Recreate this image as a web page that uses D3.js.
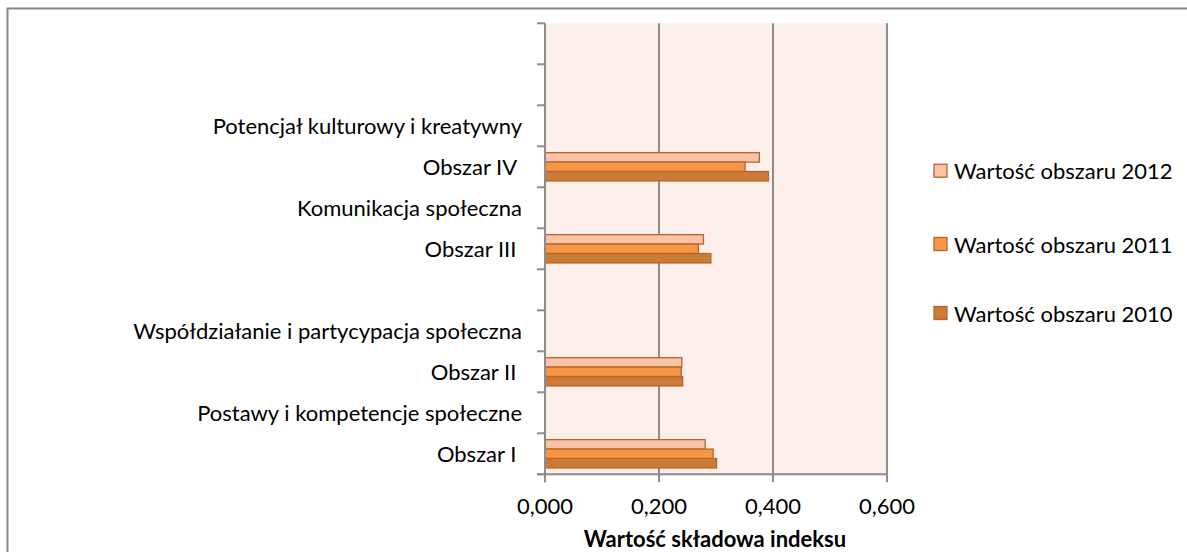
<!DOCTYPE html>
<html><head><meta charset="utf-8">
<script src="https://cdn.jsdelivr.net/npm/d3@7"></script>
<style>
body{margin:0;background:#fff;}
svg text{font-family:Lato,"Open Sans",sans-serif;fill:#000;white-space:pre;}
</style></head>
<body><svg id="c" width="1187" height="552"></svg>
<script>
// categories bottom → top
const categories = ["Obszar I ", "Postawy i kompetencje społeczne", "Obszar II ",
  "Współdziałanie i partycypacja społeczna", "", "Obszar III ",
  "Komunikacja społeczna", "Obszar IV ", "Potencjał kulturowy i kreatywny", "", ""];
const seriesNames = ["Wartość obszaru 2012", "Wartość obszaru 2011", "Wartość obszaru 2010"];
const values2012 = [0.281, null, 0.240, null, null, 0.278, null, 0.376, null, null, null];
const values2011 = [0.295, null, 0.239, null, null, 0.269, null, 0.351, null, null, null];
const values2010 = [0.301, null, 0.2415, null, null, 0.291, null, 0.392, null, null, null];
const xTicks = [0, 0.2, 0.4, 0.6];
const axisTitle = "Wartość składowa indeksu";
const colors = ["#FAC3A7", "#F79646", "#CB7A38"];
const seriesValues = [values2012, values2011, values2010];

const svg = d3.select("#c");
const L = 545, R = 887, T = 23.3, B = 474.3;
const FS = 22;

// chart border (cropped)
svg.append("path").attr("d", `M7.5,552 V8.5 H1187`).attr("fill","none")
  .attr("stroke","#868686").attr("stroke-width",2);

const x = d3.scaleLinear().domain([0, 0.6]).range([L, R]);
const idx = d3.range(categories.length);
const y = d3.scaleBand().domain(idx.slice().reverse()).range([T, B]).padding(0);
const yInner = d3.scaleBand().domain(d3.range(3)).range([0, y.bandwidth()])
  .paddingInner(0).paddingOuter(0.675);

// plot background
svg.append("rect").attr("x", L).attr("y", T).attr("width", R - L).attr("height", B - T)
  .attr("fill", "#FCEEE9");

// gridlines
svg.append("g").selectAll("line").data(xTicks.slice(1)).join("line")
  .attr("x1", d => x(d)).attr("x2", d => x(d)).attr("y1", T).attr("y2", B)
  .attr("stroke", "#8C8C8C").attr("stroke-width", 2);

// bars
const gBars = svg.append("g");
seriesValues.forEach((vals, s) => {
  gBars.selectAll(null).data(idx.filter(i => vals[i] != null)).join("rect")
    .attr("x", x(0))
    .attr("y", i => y(i) + yInner(s))
    .attr("width", i => x(vals[i]) - x(0))
    .attr("height", yInner.bandwidth())
    .attr("fill", colors[s])
    .attr("stroke", "#B8652A").attr("stroke-width", 1.3);
});

// y axis
const yAxis = svg.append("g");
yAxis.append("line").attr("x1", L).attr("x2", L).attr("y1", T).attr("y2", B + 8)
  .attr("stroke", "#8C8C8C").attr("stroke-width", 2);
const yTickPos = idx.map(i => y(i)).concat([B]);
yAxis.selectAll("line.t").data(yTickPos).join("line").attr("class","t")
  .attr("x1", L - 8).attr("x2", L).attr("y1", d => d).attr("y2", d => d)
  .attr("stroke", "#8C8C8C").attr("stroke-width", 2);
yAxis.selectAll("text").data(idx).join("text")
  .attr("x", L - 23).attr("y", i => y(i) + y.bandwidth() / 2)
  .attr("text-anchor", "end").attr("dominant-baseline", "central")
  .attr("font-size", FS).text(i => categories[i]);

// x axis
const xAxis = svg.append("g");
xAxis.append("line").attr("x1", L - 8).attr("x2", R).attr("y1", B).attr("y2", B)
  .attr("stroke", "#8C8C8C").attr("stroke-width", 2);
xAxis.selectAll("line.t").data(xTicks).join("line").attr("class","t")
  .attr("x1", d => x(d)).attr("x2", d => x(d)).attr("y1", B).attr("y2", B + 8)
  .attr("stroke", "#8C8C8C").attr("stroke-width", 2);
xAxis.selectAll("text").data(xTicks).join("text")
  .attr("x", d => x(d)).attr("y", 505).attr("text-anchor", "middle")
  .attr("dominant-baseline", "central").attr("font-size", FS)
  .text(d => d3.format(".3f")(d).replace(".", ","));
svg.append("text").attr("x", 715).attr("y", 538).attr("text-anchor", "middle")
  .attr("dominant-baseline", "central").attr("font-size", FS).attr("font-weight", "bold")
  .text(axisTitle);

// legend
const legY = [170.7, 244, 313];
const leg = svg.append("g").selectAll("g").data(seriesNames).join("g")
  .attr("transform", (d, i) => `translate(934,${legY[i]})`);
leg.append("rect").attr("x", 0).attr("y", -6.5).attr("width", 13).attr("height", 13)
  .attr("fill", (d, i) => colors[i]).attr("stroke", "#B8652A").attr("stroke-width", 1.3);
leg.append("text").attr("x", 20).attr("y", 0).attr("dominant-baseline", "central")
  .attr("font-size", FS).text(d => d);
</script></body></html>
